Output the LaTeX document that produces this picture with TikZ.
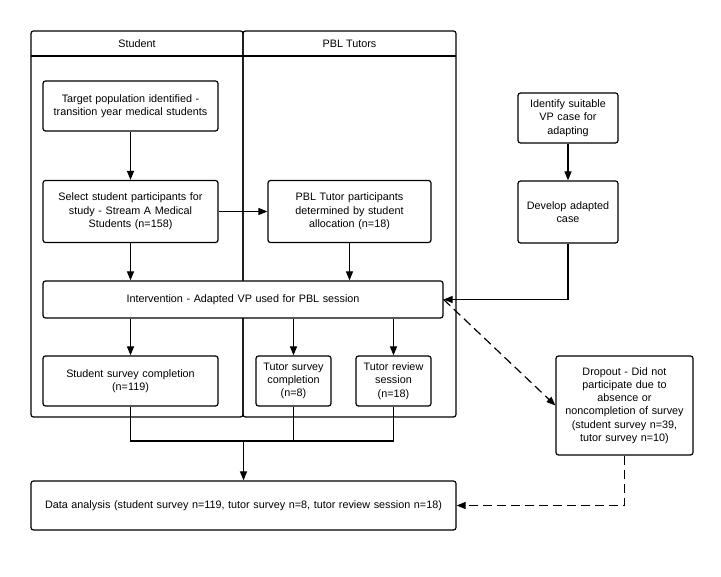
\documentclass[tikz,border=0pt]{standalone}
\usepackage{fontspec}
\setmainfont{Liberation Sans}
\usetikzlibrary{arrows.meta}

\begin{document}
\begin{tikzpicture}[x=1pt,y=-1pt,
        box/.style={draw=black, fill=white, line width=1.2pt, rounded corners=2.5pt, inner sep=0pt,
            align=center, font=\fontsize{10.8}{13.3}\selectfont},
        lane/.style={draw=black, line width=1.2pt, rounded corners=2.5pt},
        arr/.style={line width=1.2pt, -{Triangle[length=9pt,width=7pt]}},
        dropline/.style={line width=1.2pt, dash pattern=on 9pt off 5pt}]
        \useasboundingbox (0,0) rectangle (721,577);

        \draw [lane] (31,31) rectangle (243,417);
        \draw [lane] (243,31) rectangle (456,417);
        \draw [line width=1.2pt] (31,56) -- (456,56);
        \node [font=\fontsize{10.8}{13.3}\selectfont] (lanestudent) at (137,43.5) {Student};
        \node [font=\fontsize{10.8}{13.3}\selectfont] (lanetutors) at (349.5,43.5) {PBL Tutors};

        \node [box, minimum width=175pt, minimum height=50pt, text width=168pt] (target) at (130.5,106)
            {Target population identified -\\transition year medical students};
        \node [box, minimum width=175pt, minimum height=62pt, text width=168pt] (select) at (130.5,211.5)
            {Select student participants for\\study - Stream A Medical\\Students (n=158)};
        \node [box, minimum width=163pt, minimum height=62pt, text width=156pt] (pbl) at (349.5,211.5)
            {PBL Tutor participants\\determined by student\\allocation (n=18)};
        \node [box, minimum width=400pt, minimum height=37pt, text width=390pt] (interv) at (243,299.5)
            {Intervention - Adapted VP used for PBL session};
        \node [box, minimum width=175pt, minimum height=50pt, text width=168pt] (ssurvey) at (130.5,381)
            {Student survey completion\\(n=119)};
        \node [box, minimum width=75pt, minimum height=50pt, text width=72pt] (tsurvey) at (293.5,381)
            {Tutor survey\\completion\\(n=8)};
        \node [box, minimum width=75pt, minimum height=50pt, text width=72pt] (treview) at (393.5,381)
            {Tutor review\\session\\(n=18)};
        \node [box, minimum width=100pt, minimum height=50pt, text width=96pt] (identify) at (568,118)
            {Identify suitable\\VP case for\\adapting};
        \node [box, minimum width=100pt, minimum height=62pt, text width=96pt] (develop) at (568,212)
            {Develop adapted\\case};
        \node [box, minimum width=137pt, minimum height=99pt, text width=134pt] (dropout) at (624.5,405.5)
            {Dropout - Did not\\participate due to\\absence or\\noncompletion of survey\\(student survey n=39,\\tutor survey n=10)};
        \node [box, minimum width=425pt, minimum height=49pt, text width=418pt] (data) at (243.5,505.5)
            {Data analysis (student survey n=119, tutor survey n=8, tutor review session n=18)};
        \coordinate (merge) at (243.5,441);

        \draw [arr] (target) -- (select);
        \draw [arr] (select) -- (pbl);
        \draw [arr] (select.south) -- (select.south |- interv.north);
        \draw [arr] (pbl.south) -- (pbl.south |- interv.north);
        \draw [arr] (identify) -- (develop);
        \draw [arr] (develop.south) |- (interv.east);
        \draw [arr] (interv.south -| ssurvey.north) -- (ssurvey.north);
        \draw [arr] (interv.south -| tsurvey.north) -- (tsurvey.north);
        \draw [arr] (interv.south -| treview.north) -- (treview.north);
        \draw [line width=1.2pt] (ssurvey.south) |- (treview.south |- merge) -- (treview.south);
        \draw [line width=1.2pt] (tsurvey.south) -- (tsurvey.south |- merge);
        \draw [arr] (merge) -- (data.north);
        \draw [dropline, -{Triangle[length=9pt,width=7pt]}] (interv.east) -- (dropout.west);
        \draw [dropline, -{Triangle[length=9pt,width=7pt]}] (dropout.south) |- (data.east);
    \end{tikzpicture}
\end{document}
